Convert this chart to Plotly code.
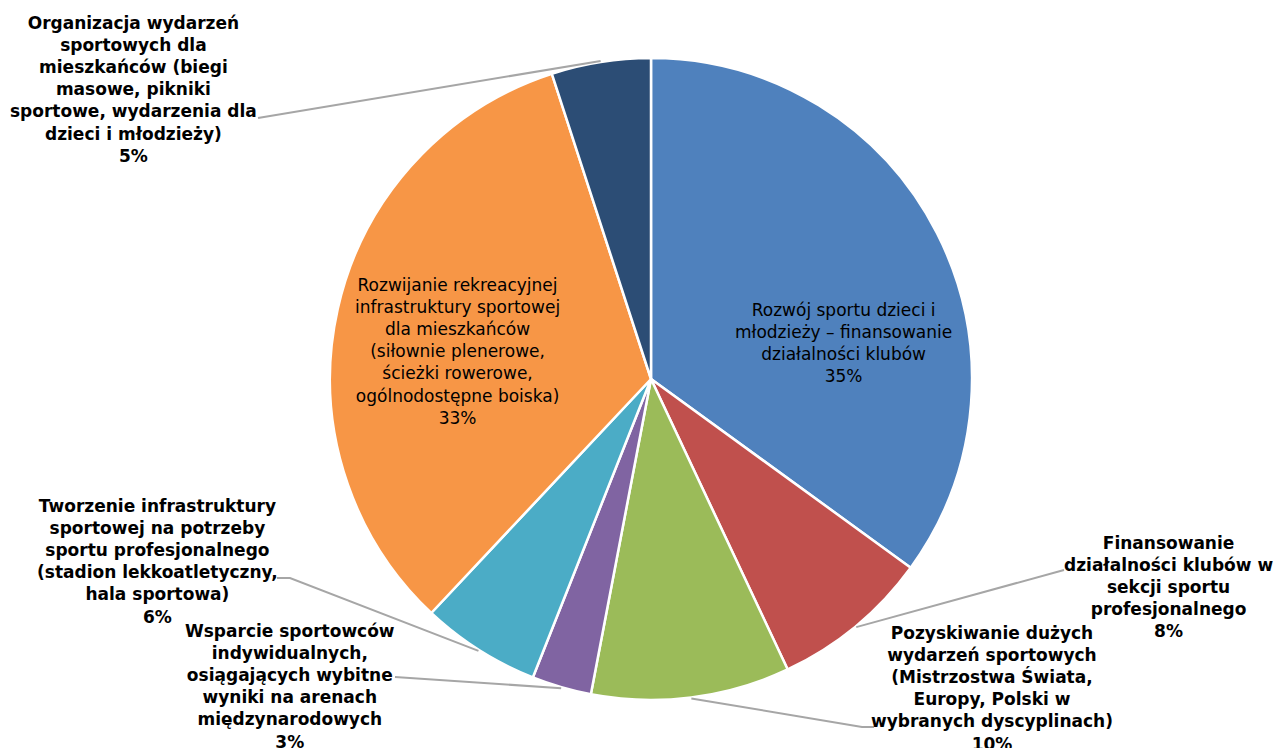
import numpy as np
import plotly.graph_objects as go

# Data
# =====================================================================
labels = [
    "Rozwój sportu dzieci i<br>młodzieży – finansowanie<br>działalności klubów",
    "Finansowanie<br>działalności klubów w<br>sekcji sportu<br>profesjonalnego",
    "Pozyskiwanie dużych<br>wydarzeń sportowych<br>(Mistrzostwa Świata,<br>Europy, Polski w<br>wybranych dyscyplinach)",
    "Wsparcie sportowców<br>indywidualnych,<br>osiągających wybitne<br>wyniki na arenach<br>międzynarodowych",
    "Tworzenie infrastruktury<br>sportowej na potrzeby<br>sportu profesjonalnego<br>(stadion lekkoatletyczny,<br>hala sportowa)",
    "Rozwijanie rekreacyjnej<br>infrastruktury sportowej<br>dla mieszkańców<br>(siłownie plenerowe,<br>ścieżki rowerowe,<br>ogólnodostępne boiska)",
    "Organizacja wydarzeń<br>sportowych dla<br>mieszkańców (biegi<br>masowe, pikniki<br>sportowe, wydarzenia dla<br>dzieci i młodzieży)",
]
values = [35, 8, 10, 3, 6, 33, 5]
colors = ["#4F81BD", "#C0504D", "#9BBB59", "#8064A2", "#4BACC6", "#F79646", "#2C4D75"]

# Layout geometry (screen pixels)
# =====================================================================
OFF = 8                      # page body margin
W, H = 1287 - OFF, 748 - OFF
cx, cy, R = 651, 379, 321

def px(x, y):
    return (x - OFF) / W, 1 - (y - OFF) / H

# label placement: (label centre x, centre y, bold, leader elbow, leader end)
placement = [
    (843, 343, False, None, None),
    (1168, 587, True, None, (1064, 570)),
    (992, 688, True, (862, 727), (874, 727)),
    (290, 686, True, None, (395, 677)),
    (157, 561, True, (290, 578), (277, 578)),
    (457, 351, False, None, None),
    (133, 90, True, None, (258, 118)),
]

fig = go.Figure()

x0, y1 = px(cx - R, cy - R)
x1, y0 = px(cx + R, cy + R)
fig.add_trace(go.Pie(
    labels=[l.replace("<br>", " ") for l in labels],
    values=values,
    sort=False,
    direction="clockwise",
    rotation=0,
    marker=dict(colors=colors, line=dict(color="white", width=2.5)),
    textinfo="none",
    hoverinfo="label+percent",
    showlegend=False,
    domain=dict(x=[x0, x1], y=[y0, y1]),
))

# Labels and leader lines
total = sum(values)
cum = np.cumsum([0] + values)
annotations = []
shapes = []
for i, (lab, val) in enumerate(zip(labels, values)):
    lx, ly, bold, elbow, end = placement[i]
    txt = f"{lab}<br>{val / total * 100:.0f}%"
    if bold:
        txt = f"<b>{txt}</b>"
    ax, ay = px(lx, ly)
    annotations.append(dict(
        text=txt, x=ax, y=ay, xref="paper", yref="paper",
        xanchor="center", yanchor="middle", align="center", showarrow=False,
        font=dict(family="DejaVu Sans", size=17, color="black"),
    ))
    if end is not None:
        ang = np.radians((cum[i] + val / 2) / total * 360)
        sx = cx + (R + 1) * np.sin(ang)
        sy = cy - (R + 1) * np.cos(ang)
        pts = [(sx, sy)] + ([elbow] if elbow else []) + [end]
        path = "M " + " L ".join(f"{px(x, y)[0]},{px(x, y)[1]}" for x, y in pts)
        shapes.append(dict(type="path", path=path, xref="paper", yref="paper",
                           line=dict(color="#A6A6A6", width=2)))

fig.update_layout(
    width=W, height=H,
    margin=dict(l=0, r=0, t=0, b=0),
    paper_bgcolor="white",
    plot_bgcolor="white",
    annotations=annotations,
    shapes=shapes,
)

fig.write_html("out.html")
